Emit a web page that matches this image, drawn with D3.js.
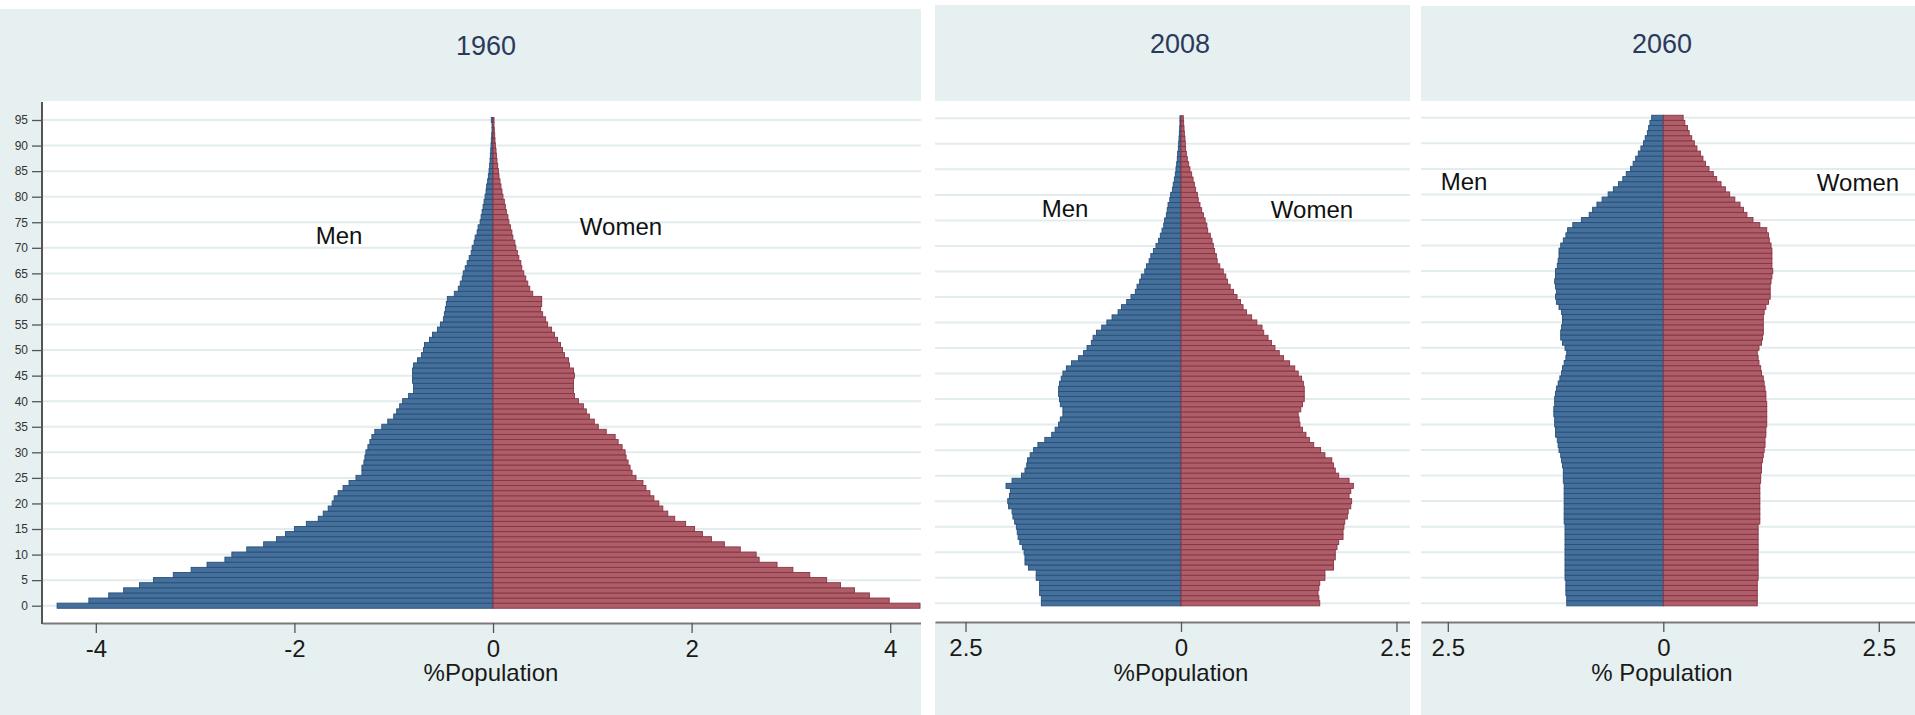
<!DOCTYPE html>
<html><head><meta charset="utf-8">
<script src="https://cdn.jsdelivr.net/npm/d3@7"></script>
<style>
body{margin:0;background:#fff}
svg{display:block}
text{font-family:"Liberation Sans",Arial,Helvetica,sans-serif}
</style>
</head><body>
<svg id="chart" width="1915" height="715"></svg>
<script>
// ---------- data ----------
const ages = [0,1,2,3,4,5,6,7,8,9,10,11,12,13,14,15,16,17,18,19,20,21,22,23,24,25,26,27,28,29,30,31,32,33,34,35,36,37,38,39,40,41,42,43,44,45,46,47,48,49,50,51,52,53,54,55,56,57,58,59,60,61,62,63,64,65,66,67,68,69,70,71,72,73,74,75,76,77,78,79,80,81,82,83,84,85,86,87,88,89,90,91,92,93,94,95];
const ageTicks = [0,5,10,15,20,25,30,35,40,45,50,55,60,65,70,75,80,85,90,95];
const years = ["1960","2008","2060"];
const xTicks1960 = [-4,-2,0,2,4];
const xTicksLater = [-2.5,0,2.5];
const xTitles = ["%Population","%Population","% Population"];
const sexLabels = ["Men","Women"];

const men1960 = [4.39,4.07,3.87,3.72,3.56,3.42,3.22,3.04,2.88,2.70,
 2.63,2.48,2.31,2.18,2.09,2.00,1.88,1.76,1.71,1.66,
 1.62,1.60,1.56,1.51,1.45,1.38,1.32,1.32,1.30,1.29,
 1.28,1.26,1.24,1.22,1.19,1.12,1.06,1.00,0.97,0.94,
 0.91,0.85,0.80,0.80,0.81,0.81,0.81,0.80,0.76,0.72,
 0.70,0.69,0.64,0.61,0.56,0.53,0.50,0.49,0.48,0.47,
 0.46,0.39,0.35,0.33,0.31,0.30,0.28,0.26,0.24,0.22,
 0.21,0.19,0.18,0.16,0.15,0.13,0.12,0.11,0.10,0.09,
 0.08,0.07,0.064,0.054,0.047,0.040,0.034,0.030,0.027,0.023,
 0.020,0.017,0.013,0.010,0.010,0.017];
const women1960 = [4.30,3.99,3.79,3.64,3.50,3.36,3.19,3.02,2.86,2.68,
 2.65,2.49,2.33,2.20,2.11,2.03,1.94,1.83,1.76,1.71,
 1.67,1.62,1.58,1.54,1.51,1.44,1.40,1.38,1.36,1.34,
 1.33,1.30,1.26,1.23,1.14,1.06,1.02,0.97,0.94,0.91,
 0.86,0.82,0.81,0.81,0.81,0.82,0.81,0.77,0.76,0.72,
 0.70,0.68,0.65,0.62,0.59,0.55,0.53,0.50,0.48,0.49,
 0.49,0.40,0.37,0.35,0.33,0.31,0.29,0.28,0.26,0.245,
 0.23,0.22,0.20,0.19,0.175,0.16,0.15,0.134,0.124,0.114,
 0.10,0.09,0.08,0.07,0.06,0.054,0.047,0.04,0.034,0.03,
 0.024,0.02,0.017,0.013,0.01,0.01];
const men2008 = [1.62,1.62,1.64,1.64,1.64,1.68,1.68,1.77,1.81,1.81,
 1.82,1.84,1.87,1.89,1.90,1.91,1.93,1.95,1.96,2.00,
 2.01,1.99,1.98,2.03,1.96,1.85,1.81,1.79,1.78,1.75,
 1.71,1.66,1.58,1.50,1.46,1.42,1.40,1.37,1.37,1.40,
 1.41,1.42,1.42,1.41,1.39,1.37,1.33,1.27,1.19,1.13,
 1.09,1.04,1.02,0.98,0.92,0.86,0.80,0.73,0.69,0.63,
 0.58,0.53,0.51,0.48,0.46,0.42,0.40,0.37,0.35,0.32,
 0.29,0.26,0.24,0.22,0.20,0.19,0.17,0.16,0.15,0.13,
 0.12,0.10,0.09,0.077,0.066,0.058,0.05,0.043,0.039,0.031,
 0.027,0.023,0.019,0.015,0.012,0.012];
const women2008 = [1.61,1.60,1.59,1.60,1.61,1.67,1.67,1.77,1.77,1.79,
 1.79,1.81,1.83,1.88,1.88,1.89,1.90,1.93,1.94,1.97,
 1.98,1.95,1.97,2.00,1.95,1.83,1.79,1.77,1.75,1.67,
 1.62,1.54,1.49,1.45,1.41,1.38,1.37,1.36,1.39,1.41,
 1.43,1.43,1.43,1.42,1.40,1.36,1.32,1.26,1.19,1.14,
 1.09,1.05,1.01,0.96,0.94,0.88,0.82,0.76,0.72,0.69,
 0.65,0.61,0.57,0.54,0.52,0.49,0.45,0.42,0.41,0.39,
 0.375,0.36,0.34,0.31,0.30,0.28,0.26,0.24,0.22,0.20,
 0.19,0.17,0.155,0.14,0.124,0.104,0.089,0.073,0.062,0.054,
 0.05,0.046,0.039,0.035,0.031,0.027];
const men2060 = [1.12,1.12,1.13,1.13,1.13,1.14,1.14,1.14,1.14,1.14,
 1.14,1.14,1.14,1.14,1.14,1.14,1.15,1.15,1.15,1.15,
 1.15,1.15,1.15,1.15,1.16,1.16,1.16,1.17,1.18,1.19,
 1.21,1.22,1.23,1.25,1.25,1.26,1.26,1.27,1.27,1.26,
 1.26,1.25,1.24,1.22,1.20,1.18,1.17,1.15,1.13,1.12,
 1.14,1.17,1.19,1.19,1.18,1.17,1.17,1.18,1.21,1.24,
 1.25,1.24,1.25,1.26,1.25,1.25,1.23,1.22,1.21,1.21,
 1.19,1.16,1.13,1.11,1.05,0.95,0.86,0.82,0.77,0.71,
 0.64,0.58,0.52,0.47,0.43,0.38,0.35,0.32,0.29,0.26,
 0.23,0.21,0.185,0.17,0.155,0.135];
const women2060 = [1.09,1.09,1.09,1.09,1.09,1.10,1.10,1.10,1.10,1.10,
 1.10,1.10,1.10,1.10,1.10,1.10,1.12,1.12,1.12,1.12,
 1.12,1.12,1.12,1.12,1.13,1.13,1.14,1.14,1.15,1.16,
 1.17,1.18,1.18,1.19,1.19,1.20,1.20,1.20,1.20,1.20,
 1.19,1.19,1.18,1.17,1.16,1.14,1.13,1.11,1.10,1.09,
 1.11,1.14,1.15,1.16,1.16,1.16,1.16,1.17,1.19,1.22,
 1.24,1.24,1.24,1.25,1.26,1.27,1.26,1.26,1.26,1.26,
 1.25,1.23,1.22,1.20,1.12,1.04,0.97,0.93,0.89,0.83,
 0.77,0.72,0.67,0.62,0.58,0.53,0.49,0.46,0.43,0.39,
 0.36,0.33,0.30,0.28,0.25,0.23];

// ---------- layout ----------
const C = {
  strip:"#e7f0f0", grid:"#e2ecec", white:"#ffffff",
  menFill:"#45709b", menStroke:"#274f79",
  womenFill:"#ad5e69", womenStroke:"#8a3343",
  title:"#2b3a5c", text:"#1a1a1a"
};
const panels = [
  {title:years[0], men:men1960, women:women1960, left:0, right:921, plotL:42, stripTop:9, axisY:623,
   xDom:[-4.542,4.31], yRange:[605.7,120], ticks:xTicks1960, fmt:d=>String(d), xTitle:xTitles[0],
   titleX:486, xTitleX:491, menX:339, menY:244, womenX:621, womenY:235, yAxis:true},
  {title:years[1], men:men2008, women:women2008, left:935, right:1410, plotL:935, stripTop:5, axisY:622,
   xDom:[-2.854,2.657], yRange:[603.3,118.3], ticks:xTicksLater, fmt:d=>String(Math.abs(d)), xTitle:xTitles[1],
   titleX:1180, xTitleX:1181, menX:1065, menY:217, womenX:1312, womenY:218, yAxis:false},
  {title:years[2], men:men2060, women:women2060, left:1421, right:1915, plotL:1421, stripTop:6, axisY:622,
   xDom:[-2.811,2.92], yRange:[603.3,117.8], ticks:xTicksLater, fmt:d=>String(Math.abs(d)), xTitle:xTitles[2],
   titleX:1662, xTitleX:1662, menX:1464, menY:190, womenX:1858, womenY:191, yAxis:false}
];

const svg = d3.select("#chart");
svg.append("rect").attr("width",1915).attr("height",715).attr("fill","#fff");
const defs = svg.append("defs");

panels.forEach((p,i)=>{
  const g = svg.append("g");
  const x = d3.scaleLinear().domain(p.xDom).range([p.plotL,p.right]);
  const y = d3.scaleLinear().domain([0,95]).range(p.yRange);
  const bh = Math.abs(y(1)-y(0));
  const plotTop = 100;

  // backgrounds
  g.append("rect").attr("x",p.left).attr("y",p.stripTop).attr("width",p.right-p.left).attr("height",100-p.stripTop).attr("fill",C.strip);
  g.append("rect").attr("x",p.left).attr("y",100).attr("width",p.right-p.left).attr("height",615).attr("fill",C.strip);
  g.append("rect").attr("x",p.plotL).attr("y",plotTop+1).attr("width",p.right-p.plotL).attr("height",p.axisY-plotTop-1).attr("fill",C.white);

  // title
  g.append("text").attr("x",p.titleX).attr("y",p.title==="1960"?55:53).attr("text-anchor","middle")
   .attr("font-size",27).attr("fill",C.title).text(p.title);

  // gridlines
  g.append("g").selectAll("line").data(ageTicks).join("line")
   .attr("x1",p.plotL).attr("x2",p.right).attr("y1",d=>y(d)).attr("y2",d=>y(d))
   .attr("stroke",C.grid).attr("stroke-width",2);

  // bars (clipped to plot)
  const cid = "clip"+i;
  defs.append("clipPath").attr("id",cid).append("rect")
    .attr("x",p.plotL).attr("y",plotTop).attr("width",p.right-p.plotL).attr("height",p.axisY-plotTop);
  const bars = g.append("g").attr("clip-path",`url(#${cid})`);
  bars.selectAll("rect.m").data(ages).join("rect").attr("class","m")
    .attr("x",a=>x(-p.men[a])).attr("width",a=>x(0)-x(-p.men[a]))
    .attr("y",a=>y(a)-bh/2).attr("height",bh)
    .attr("fill",C.menFill).attr("stroke",C.menStroke).attr("stroke-width",0.9);
  bars.selectAll("rect.w").data(ages).join("rect").attr("class","w")
    .attr("x",x(0)).attr("width",a=>x(p.women[a])-x(0))
    .attr("y",a=>y(a)-bh/2).attr("height",bh)
    .attr("fill",C.womenFill).attr("stroke",C.womenStroke).attr("stroke-width",0.9);

  // sex labels
  g.append("text").attr("x",p.menX).attr("y",p.menY).attr("text-anchor","middle").attr("font-size",24).attr("fill","#111").text(sexLabels[0]);
  g.append("text").attr("x",p.womenX).attr("y",p.womenY).attr("text-anchor","middle").attr("font-size",24).attr("fill","#111").text(sexLabels[1]);

  // x axis
  const clipA = "clipA"+i;
  defs.append("clipPath").attr("id",clipA).append("rect")
    .attr("x",p.left).attr("y",p.axisY-5).attr("width",p.right-p.left).attr("height",100);
  const ax = g.append("g").attr("clip-path",`url(#${clipA})`).append("g").attr("transform",`translate(0,${p.axisY})`)
    .call(d3.axisBottom(x).tickValues(p.ticks).tickFormat(p.fmt).tickSize(10).tickSizeOuter(0).tickPadding(7));
  ax.select(".domain").attr("stroke","#7a7a7a").attr("stroke-width",2);
  ax.selectAll(".tick line").attr("stroke","#555").attr("stroke-width",1.3);
  ax.selectAll(".tick text").attr("font-size",24).attr("fill",C.text).attr("font-family",null);
  g.append("text").attr("x",p.xTitleX).attr("y",681).attr("text-anchor","middle").attr("font-size",24).attr("fill",C.text).text(p.xTitle);

  // y axis (first panel only)
  if(p.yAxis){
    const ay = g.append("g").attr("transform",`translate(${p.plotL},0)`)
      .call(d3.axisLeft(y).tickValues(ageTicks).tickSize(10).tickPadding(4));
    ay.select(".domain").remove();
    ay.selectAll(".tick line").attr("stroke","#555").attr("stroke-width",1.3);
    ay.selectAll(".tick text").attr("font-size",12).attr("fill","#333").attr("font-family",null);
    g.append("line").attr("x1",p.plotL).attr("x2",p.plotL).attr("y1",102).attr("y2",p.axisY+1)
      .attr("stroke","#555").attr("stroke-width",2);
  }
});
</script>
</body></html>
